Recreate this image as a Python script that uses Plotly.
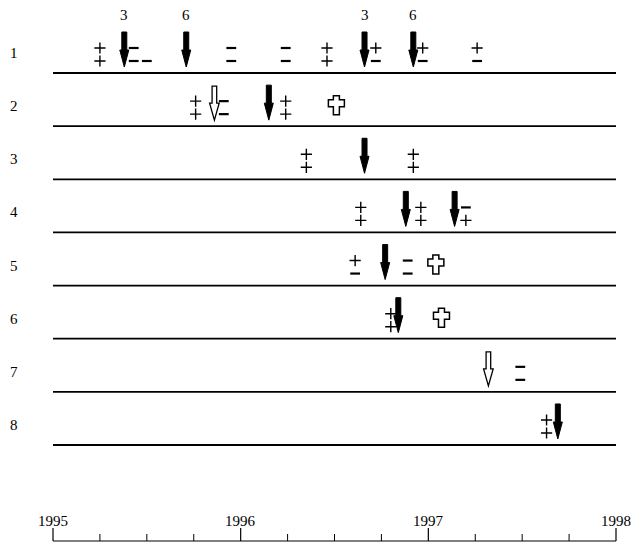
import plotly.graph_objects as go

# ---------------- data ----------------
row_ids = [1, 2, 3, 4, 5, 6, 7, 8]
row_labels = ["1", "2", "3", "4", "5", "6", "7", "8"]
year_ticks = [1995, 1996, 1997, 1998]
quarter_ticks = [1995.25, 1995.5, 1995.75, 1996.25, 1996.5, 1996.75,
                 1997.25, 1997.5, 1997.75]

# test results: row, time, upper sign, lower sign ("" = none)
test_row = [1, 1, 1, 1, 1, 1, 1, 1, 1,
            2, 2, 2,
            3, 3,
            4, 4, 4,
            5, 5,
            6,
            7,
            8]
test_year = [1995.25, 1995.43, 1995.50, 1995.95, 1996.24, 1996.46, 1996.72, 1996.97, 1997.26,
             1995.76, 1995.91, 1996.24,
             1996.35, 1996.92,
             1996.64, 1996.96, 1997.20,
             1996.61, 1996.89,
             1996.80,
             1997.49,
             1997.63]
test_upper = ["+", "-", "", "-", "-", "+", "+", "+", "+",
              "+", "-", "+",
              "+", "+",
              "+", "+", "-",
              "+", "-",
              "+",
              "-",
              "+"]
test_lower = ["+", "-", "-", "-", "-", "+", "-", "-", "-",
              "+", "-", "+",
              "+", "+",
              "+", "+", "+",
              "-", "-",
              "+",
              "-",
              "+"]

filled_arrow_row = [1, 1, 1, 1, 2, 3, 4, 4, 5, 6, 8]
filled_arrow_year = [1995.38, 1995.71, 1996.66, 1996.92, 1996.15, 1996.66,
                     1996.88, 1997.14, 1996.77, 1996.84, 1997.69]
dose_year = [1995.38, 1995.71, 1996.66, 1996.92]
dose_label = ["3", "6", "3", "6"]

open_arrow_row = [2, 7]
open_arrow_year = [1995.86, 1997.32]

cross_row = [2, 5, 6]
cross_year = [1996.51, 1997.04, 1997.07]

# ---------------- layout constants ----------------
PAGE_OFF = 8.0                       # default body margin of the page
W, H = 633, 540
X0_PX, X1_PX = 53.0 - PAGE_OFF, 616.0 - PAGE_OFF   # pixel of 1995 and 1998
PX_PER_YEAR = (X1_PX - X0_PX) / 3.0
ROW1_PX, ROW_PITCH = 73.0 - PAGE_OFF, 53.14
AXIS_PX = 541.0 - PAGE_OFF
FONT = "Liberation Serif, Times New Roman, serif"

x_range = [1995 - X0_PX / PX_PER_YEAR, 1995 + (W - X0_PX) / PX_PER_YEAR]
y_range = [1 + (H - ROW1_PX) / ROW_PITCH, 1 - ROW1_PX / ROW_PITCH]
axis_y = 1 + (AXIS_PX - ROW1_PX) / ROW_PITCH
UP_OFF, LO_OFF = 25.0 / ROW_PITCH, 12.0 / ROW_PITCH

fig = go.Figure()

# test signs as markers
for sign, sym, lw in [("+", "cross-thin", 1.4), ("-", "line-ew", 2.2)]:
    xs, ys = [], []
    for r, t, u, lo in zip(test_row, test_year, test_upper, test_lower):
        if u == sign:
            xs.append(t); ys.append(r - UP_OFF)
        if lo == sign:
            xs.append(t); ys.append(r - LO_OFF)
    fig.add_trace(go.Scatter(
        x=xs, y=ys, mode="markers", showlegend=False, hoverinfo="skip",
        marker=dict(symbol=sym, size=8 if sign == "+" else 7,
                    color="black", line=dict(color="black", width=lw))))

shapes = []
# row baselines
for r in row_ids:
    shapes.append(dict(type="line", xref="x", yref="y", x0=1995, x1=1998, y0=r, y1=r,
                       line=dict(color="black", width=1.8)))

arrow_path = "M -2.5 41 L 2.5 41 L 2.5 23 L 4.5 23 L 0 6 L -4.5 23 L -2.5 23 Z"
for r, t in zip(filled_arrow_row, filled_arrow_year):
    shapes.append(dict(type="path", xref="x", yref="y", xsizemode="pixel", ysizemode="pixel",
                       xanchor=t, yanchor=r, path=arrow_path,
                       fillcolor="black", line=dict(color="black", width=1)))
open_path = "M -2.3 40 L 2.3 40 L 2.3 23 L 4.8 23 L 0 6 L -4.8 23 L -2.3 23 Z"
for r, t in zip(open_arrow_row, open_arrow_year):
    shapes.append(dict(type="path", xref="x", yref="y", xsizemode="pixel", ysizemode="pixel",
                       xanchor=t, yanchor=r, path=open_path,
                       fillcolor="white", line=dict(color="black", width=1.3)))
cross_path = ("M -3 30.5 L 3 30.5 L 3 26.5 L 8 26.5 L 8 19.5 L 3 19.5 L 3 11.5 "
              "L -3 11.5 L -3 19.5 L -8 19.5 L -8 26.5 L -3 26.5 Z")
for r, t in zip(cross_row, cross_year):
    shapes.append(dict(type="path", xref="x", yref="y", xsizemode="pixel", ysizemode="pixel",
                       xanchor=t, yanchor=r, path=cross_path,
                       fillcolor="white", line=dict(color="black", width=1.5)))

# bottom time axis
shapes.append(dict(type="line", xref="x", yref="y", x0=1995, x1=1998, y0=axis_y, y1=axis_y,
                   line=dict(color="black", width=1)))
for t in year_ticks:
    shapes.append(dict(type="line", xref="x", yref="y", ysizemode="pixel", yanchor=axis_y,
                       x0=t, x1=t, y0=0, y1=13, line=dict(color="black", width=1.2)))
for t in quarter_ticks:
    shapes.append(dict(type="line", xref="x", yref="y", ysizemode="pixel", yanchor=axis_y,
                       x0=t, x1=t, y0=0, y1=7, line=dict(color="black", width=1)))

annotations = []
for r, lab in zip(row_ids, row_labels):
    annotations.append(dict(xref="paper", yref="y", x=0, y=r, yshift=20, text=lab,
                            showarrow=False, xanchor="left", yanchor="middle",
                            font=dict(family=FONT, size=15, color="black")))
for t, lab in zip(dose_year, dose_label):
    annotations.append(dict(xref="x", yref="y", x=t, y=1, yshift=58, text=lab,
                            showarrow=False, xanchor="center", yanchor="middle",
                            font=dict(family=FONT, size=15, color="black")))
for t in year_ticks:
    annotations.append(dict(xref="x", yref="y", x=t, y=axis_y, yshift=20, text=str(t),
                            showarrow=False, xanchor="center", yanchor="middle",
                            font=dict(family=FONT, size=15, color="black")))

fig.update_layout(
    width=W, height=H, autosize=False,
    margin=dict(l=0, r=0, t=0, b=0),
    paper_bgcolor="white", plot_bgcolor="white",
    xaxis=dict(range=x_range, visible=False, fixedrange=True),
    yaxis=dict(range=y_range, visible=False, fixedrange=True),
    shapes=shapes, annotations=annotations,
    showlegend=False,
)

fig.write_html("out.html")
